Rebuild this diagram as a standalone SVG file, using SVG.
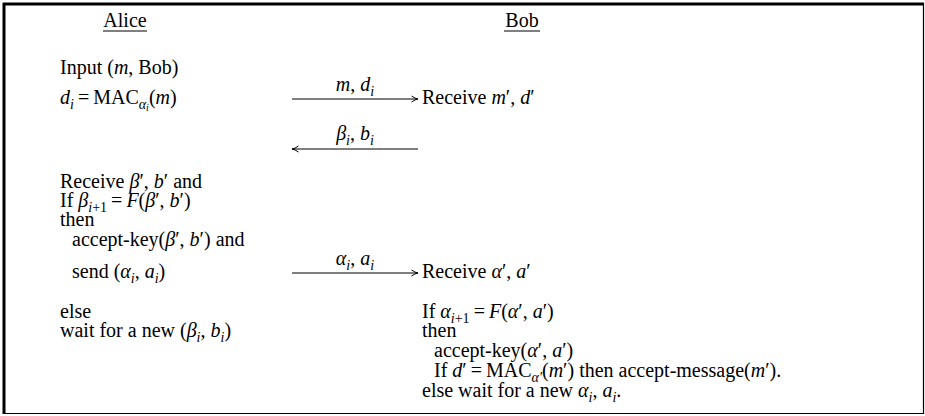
<svg xmlns="http://www.w3.org/2000/svg" width="925" height="416" viewBox="0 0 925 416">
<style>
text{font-family:"Liberation Serif","Times New Roman",serif;font-size:20px;fill:#000}
.i{font-style:italic}
.s{font-size:14px}
.ss{font-size:10px}
.ln{stroke:#000;stroke-width:1.2;fill:none}
</style>
<defs>
<marker id="ah" markerWidth="9" markerHeight="9" refX="8" refY="4.5" orient="auto" markerUnits="userSpaceOnUse">
<path d="M1.5,1.5 Q5,4 8,4.5 Q5,5 1.5,7.5" fill="none" stroke="#000" stroke-width="1"/>
</marker>
</defs>
<rect x="0" y="0" width="925" height="416" fill="#fff"/>
<g id="frame">
<line x1="3" y1="4" x2="924" y2="4" stroke="#000" stroke-width="3"/>
<line x1="4" y1="3" x2="4" y2="414" stroke="#000" stroke-width="3"/>
<line x1="923.5" y1="3" x2="923.5" y2="414" stroke="#000" stroke-width="1.2"/>
<line x1="3" y1="413.5" x2="924" y2="413.5" stroke="#000" stroke-width="1.2"/>
</g>
<g id="alice">
<text x="125" y="27" text-anchor="middle">Alice</text>
<line class="ln" x1="103" y1="31" x2="147" y2="31"/>
<text x="60" y="74">Input (<tspan class="i">m</tspan>, Bob)</text>
<text x="60" y="104"><tspan class="i">d</tspan><tspan class="i s" dy="5">i</tspan><tspan dy="-5" dx="4">=</tspan><tspan dx="4">MAC</tspan><tspan class="i s" dy="5">α</tspan><tspan class="i ss" dy="2">i</tspan><tspan dy="-7">(</tspan><tspan class="i">m</tspan>)</text>
<text x="60" y="188">Receive <tspan class="i">β</tspan>′, <tspan class="i">b</tspan>′ and</text>
<text x="60" y="207">If <tspan class="i">β</tspan><tspan class="s" dy="5"><tspan class="i">i</tspan>+1</tspan><tspan dy="-5" dx="4">=</tspan><tspan class="i" dx="4">F</tspan>(<tspan class="i">β</tspan>′, <tspan class="i">b</tspan>′)</text>
<text x="60" y="226">then</text>
<text x="72" y="246">accept-key(<tspan class="i">β</tspan>′, <tspan class="i">b</tspan>′) and</text>
<text x="72" y="278">send (<tspan class="i">α</tspan><tspan class="i s" dy="5">i</tspan><tspan dy="-5">, </tspan><tspan class="i">a</tspan><tspan class="i s" dy="5">i</tspan><tspan dy="-5">)</tspan></text>
<text x="60" y="318">else</text>
<text x="60" y="337">wait for a new (<tspan class="i">β</tspan><tspan class="i s" dy="5">i</tspan><tspan dy="-5">, </tspan><tspan class="i">b</tspan><tspan class="i s" dy="5">i</tspan><tspan dy="-5">)</tspan></text>
</g>
<g id="bob">
<text x="522" y="27" text-anchor="middle">Bob</text>
<line class="ln" x1="504" y1="31" x2="540" y2="31"/>
<text x="422" y="104">Receive <tspan class="i">m</tspan>′, <tspan class="i">d</tspan>′</text>
<text x="422" y="278">Receive <tspan class="i">α</tspan>′, <tspan class="i">a</tspan>′</text>
<text x="422" y="318">If <tspan class="i">α</tspan><tspan class="s" dy="5"><tspan class="i">i</tspan>+1</tspan><tspan dy="-5" dx="4">=</tspan><tspan class="i" dx="4">F</tspan>(<tspan class="i">α</tspan>′, <tspan class="i">a</tspan>′)</text>
<text x="422" y="337">then</text>
<text x="434" y="357">accept-key(<tspan class="i">α</tspan>′, <tspan class="i">a</tspan>′)</text>
<text x="434" y="377">If <tspan class="i">d</tspan>′<tspan dx="4">=</tspan><tspan dx="4">MAC</tspan><tspan class="i s" dy="5">α′</tspan><tspan dy="-5">(</tspan><tspan class="i">m</tspan>′) then accept-message(<tspan class="i">m</tspan>′).</text>
<text x="422" y="397">else wait for a new <tspan class="i">α</tspan><tspan class="i s" dy="5">i</tspan><tspan dy="-5">, </tspan><tspan class="i">a</tspan><tspan class="i s" dy="5">i</tspan><tspan dy="-5">.</tspan></text>
</g>
<g id="connectors">
<line class="ln" x1="292" y1="99" x2="418" y2="99" marker-end="url(#ah)"/>
<text x="355" y="91" text-anchor="middle"><tspan class="i">m</tspan>, <tspan class="i">d</tspan><tspan class="i s" dy="5">i</tspan></text>
<line class="ln" x1="418" y1="149" x2="292" y2="149" marker-end="url(#ah)"/>
<text x="355" y="140" text-anchor="middle"><tspan class="i">β</tspan><tspan class="i s" dy="5">i</tspan><tspan dy="-5">, </tspan><tspan class="i">b</tspan><tspan class="i s" dy="5">i</tspan></text>
<line class="ln" x1="292" y1="273" x2="418" y2="273" marker-end="url(#ah)"/>
<text x="355" y="265" text-anchor="middle"><tspan class="i">α</tspan><tspan class="i s" dy="5">i</tspan><tspan dy="-5">, </tspan><tspan class="i">a</tspan><tspan class="i s" dy="5">i</tspan></text>
</g>
</svg>
